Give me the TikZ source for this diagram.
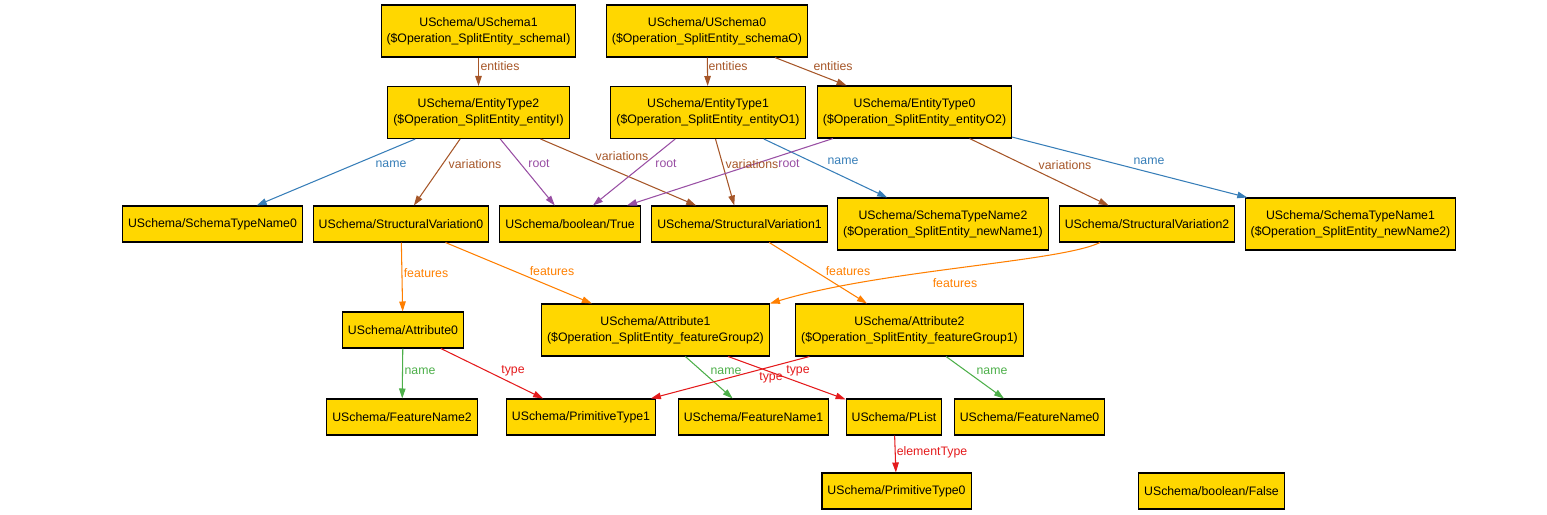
\documentclass[tikz,border=0pt]{standalone}
\usepackage{fontspec}
\setmainfont{Liberation Sans}
\usetikzlibrary{arrows.meta}
\definecolor{gold}{HTML}{FFD700}
\definecolor{setred}{HTML}{E41A1C}
\definecolor{setblue}{HTML}{377EB8}
\definecolor{setgreen}{HTML}{4DAF4A}
\definecolor{setpurple}{HTML}{984EA3}
\definecolor{setorange}{HTML}{FF7F00}
\definecolor{setbrown}{HTML}{A65628}
\begin{document}
\begin{tikzpicture}[x=0.02cm,y=-0.02cm]
	\tikzstyle{element}=[rectangle,draw=black,line width=0.6pt,fill=gold,font=\fontsize{7}{9.1}\selectfont,align=center,inner xsep=0.11cm,inner ysep=0pt,minimum height=0.72cm]
	\tikzstyle{ident}=[element,minimum height=1.04cm]
	\tikzstyle{edge}=[draw, line width=0.6pt, -{Triangle[length=0.2cm,width=0.13cm]}]
	\tikzstyle{lbl}=[font=\fontsize{7}{9.1}\selectfont,inner sep=0pt]
	\useasboundingbox (0,0) rectangle (1547,514);
	% schemas
	\node [ident] (usch1) at (478.5,31) {USchema/USchema1\\(\$Operation\_SplitEntity\_schemaI)};
	\node [ident] (usch0) at (707,31) {USchema/USchema0\\(\$Operation\_SplitEntity\_schemaO)};
	% entity types
	\node [ident] (ent2) at (478.5,112.5) {USchema/EntityType2\\(\$Operation\_SplitEntity\_entityI)};
	\node [ident] (ent1) at (708,112.5) {USchema/EntityType1\\(\$Operation\_SplitEntity\_entityO1)};
	\node [ident] (ent0) at (914.5,112) {USchema/EntityType0\\(\$Operation\_SplitEntity\_entityO2)};
	% names, variations, root
	\node [element] (stn0) at (212.5,224) {USchema/SchemaTypeName0};
	\node [element] (sv0) at (401,224) {USchema/StructuralVariation0};
	\node [element] (true) at (570,224) {USchema/boolean/True};
	\node [element] (sv1) at (739.5,224) {USchema/StructuralVariation1};
	\node [ident] (stn2) at (943,224) {USchema/SchemaTypeName2\\(\$Operation\_SplitEntity\_newName1)};
	\node [element] (sv2) at (1147,224) {USchema/StructuralVariation2};
	\node [ident] (stn1) at (1350.5,224) {USchema/SchemaTypeName1\\(\$Operation\_SplitEntity\_newName2)};
	% attributes
	\node [element] (att0) at (403,330) {USchema/Attribute0};
	\node [ident] (att1) at (655.5,330) {USchema/Attribute1\\(\$Operation\_SplitEntity\_featureGroup2)};
	\node [ident] (att2) at (909.5,330) {USchema/Attribute2\\(\$Operation\_SplitEntity\_featureGroup1)};
	% features and types
	\node [element] (fn2) at (402,417) {USchema/FeatureName2};
	\node [element] (pt1) at (581,417) {USchema/PrimitiveType1};
	\node [element] (fn1) at (753.5,417) {USchema/FeatureName1};
	\node [element] (plist) at (894,417) {USchema/PList};
	\node [element] (fn0) at (1029.5,417) {USchema/FeatureName0};
	\node [element] (pt0) at (896.5,491) {USchema/PrimitiveType0};
	\node [element] (false) at (1211.5,491) {USchema/boolean/False};

	\path[edge, setbrown] (usch1) edge (ent2);
	\path[edge, setbrown] (usch0) edge (ent1);
	\path[edge, setbrown] (usch0) edge (ent0);
	\path[edge, setblue] (ent2) edge (stn0);
	\path[edge, setbrown] (ent2) edge (sv0);
	\path[edge, setpurple] (ent2) edge (true);
	\path[edge, setbrown] (ent2) edge (sv1);
	\path[edge, setpurple] (ent1) edge (true);
	\path[edge, setbrown] (ent1) edge (sv1);
	\path[edge, setblue] (ent1) edge (stn2);
	\path[edge, setpurple] (ent0) edge (true);
	\path[edge, setbrown] (ent0) edge (sv2);
	\path[edge, setblue] (ent0) edge (stn1);
	\path[edge, setorange] (sv0) edge (att0);
	\path[edge, setorange] (sv0) edge (att1);
	\path[edge, setorange] (sv1) edge (att2);
	\path[edge, setorange] ([xshift=-0.94cm]sv2.south) .. controls (1060,262) and (880,270) .. (att1.north east);
	\path[edge, setgreen] (att0) edge (fn2);
	\path[edge, setred] (att0) edge (pt1);
	\path[edge, setgreen] (att1) edge (fn1);
	\path[edge, setred] (att1) edge (plist);
	\path[edge, setred] (att2) edge (pt1);
	\path[edge, setgreen] (att2) edge (fn0);
	\path[edge, setred] (plist) edge (pt0);

	% edge labels
	\node [lbl, setbrown] (l1) at (500,66) {entities};
	\node [lbl, setbrown] (l2) at (728,66) {entities};
	\node [lbl, setbrown] (l3) at (833,66) {entities};
	\node [lbl, setblue] (l4) at (391,164) {name};
	\node [lbl, setbrown] (l5) at (475,164) {variations};
	\node [lbl, setpurple] (l6) at (539,164) {root};
	\node [lbl, setbrown] (l7) at (622,156) {variations};
	\node [lbl, setpurple] (l8) at (666,164) {root};
	\node [lbl, setbrown] (l9) at (752,164) {variations};
	\node [lbl, setpurple] (l10) at (789,164) {root};
	\node [lbl, setblue] (l11) at (843,161) {name};
	\node [lbl, setbrown] (l12) at (1065,165) {variations};
	\node [lbl, setblue] (l13) at (1149,161) {name};
	\node [lbl, setorange] (l14) at (426,273) {features};
	\node [lbl, setorange] (l15) at (552,271) {features};
	\node [lbl, setorange] (l16) at (848,271) {features};
	\node [lbl, setorange] (l17) at (955,283) {features};
	\node [lbl, setgreen] (l18) at (420,371) {name};
	\node [lbl, setred] (l19) at (513,371) {type};
	\node [lbl, setgreen] (l20) at (726,371) {name};
	\node [lbl, setred] (l21) at (771,378) {type};
	\node [lbl, setred] (l22) at (798,371) {type};
	\node [lbl, setgreen] (l23) at (992,371) {name};
	\node [lbl, setred] (l24) at (932,452) {elementType};
\end{tikzpicture}
\end{document}
